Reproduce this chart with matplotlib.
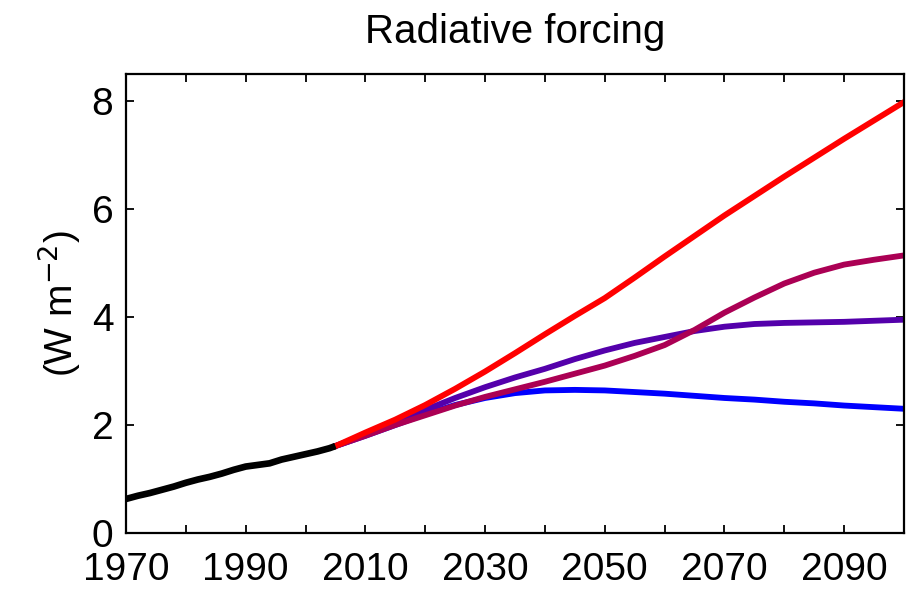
import matplotlib
matplotlib.use("Agg")
import matplotlib.pyplot as plt

# historical forcing (black)
hist_years = [1970, 1972, 1974, 1976, 1978, 1980, 1982, 1984, 1986, 1988,
              1990, 1992, 1994, 1996, 1998, 2000, 2002, 2004, 2005]
hist_rf = [0.63, 0.69, 0.74, 0.80, 0.86, 0.93, 0.99, 1.04, 1.10, 1.17,
           1.23, 1.26, 1.29, 1.36, 1.41, 1.46, 1.51, 1.57, 1.61]

# scenario forcing, 2005-2100 every 5 years
scen_years = list(range(2005, 2101, 5))
rcp26 = [1.61, 1.80, 2.00, 2.20, 2.37, 2.50, 2.59, 2.64, 2.65, 2.64,
         2.61, 2.58, 2.54, 2.50, 2.47, 2.43, 2.40, 2.36, 2.33, 2.30]
rcp45 = [1.61, 1.82, 2.05, 2.28, 2.50, 2.70, 2.88, 3.04, 3.22, 3.38,
         3.52, 3.63, 3.74, 3.82, 3.87, 3.89, 3.90, 3.91, 3.93, 3.95]
rcp60 = [1.61, 1.80, 2.00, 2.18, 2.36, 2.52, 2.66, 2.80, 2.95, 3.10,
         3.28, 3.48, 3.76, 4.08, 4.36, 4.62, 4.82, 4.97, 5.06, 5.14]
rcp85 = [1.61, 1.86, 2.10, 2.37, 2.67, 2.99, 3.33, 3.68, 4.02, 4.35,
         4.73, 5.12, 5.50, 5.88, 6.24, 6.60, 6.95, 7.30, 7.64, 7.98]

plt.rcParams["font.family"] = ["Liberation Sans", "DejaVu Sans"]

fig = plt.figure(figsize=(9.11, 5.89), dpi=100)
ax = fig.add_axes([0.1383, 0.0951, 0.854, 0.7793])

lw = 4.2
ax.plot(scen_years, rcp26, color=(0, 0, 1), lw=lw)
ax.plot(scen_years, rcp45, color=(0.33, 0, 0.67), lw=lw)
ax.plot(scen_years, rcp60, color=(0.67, 0, 0.33), lw=lw)
ax.plot(scen_years, rcp85, color=(1, 0, 0), lw=lw)
ax.plot(hist_years, hist_rf, color="black", lw=4.8, solid_capstyle="butt")

ax.set_xlim(1970, 2100)
ax.set_ylim(0, 8.5)
ax.set_xticks(range(1970, 2100, 20))
ax.set_xticks(range(1980, 2100, 20), minor=True)
ax.set_yticks([0, 2, 4, 6, 8])

ax.tick_params(which="both", direction="in", top=True, right=True,
               length=6, width=1.3, labelsize=28)
ax.tick_params(axis="x", pad=14)
ax.tick_params(axis="y", pad=9)
for s in ax.spines.values():
    s.set_linewidth(1.6)

ax.set_title("Radiative forcing", fontsize=29, pad=22)
ax.set_ylabel("(W m$^{-2}$)", fontsize=28, labelpad=6)

fig.savefig("out.png", dpi=100)
